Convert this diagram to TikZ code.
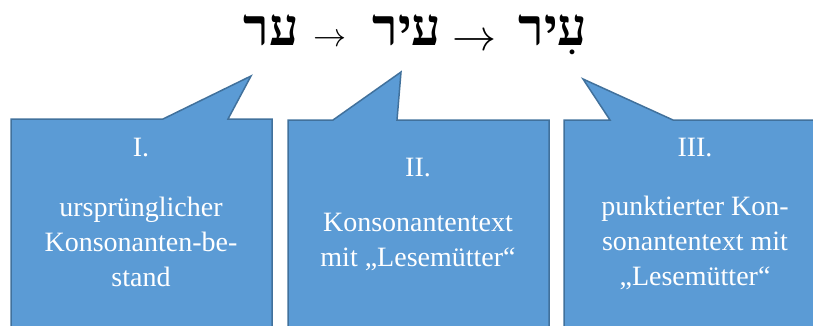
\documentclass[tikz,border=0pt]{standalone}
\usepackage{fontspec}
\setmainfont{Liberation Serif}
\newfontfamily\hebfont[Script=Hebrew]{Liberation Serif}
\TeXXeTstate=1
\definecolor{calloutfill}{HTML}{5B9BD5}
\definecolor{calloutline}{HTML}{41719C}
\begin{document}
\begin{tikzpicture}[x=1pt,y=-1pt,
  callout/.style={fill=calloutfill,draw=calloutline,line width=1.5pt,line join=miter},
  heb/.style={font=\hebfont\bfseries\fontsize{52}{52}\selectfont,inner sep=0pt,anchor=base},
  arr/.style={inner sep=0pt,anchor=center,font=\Huge,transform shape},
  num/.style={text=white,font=\fontsize{28}{35}\selectfont,inner sep=0pt,anchor=center},
  body/.style={text=white,font=\fontsize{28}{35}\selectfont,align=center,inner sep=0pt,anchor=center}]
\useasboundingbox (0,0) rectangle (813,325);
\clip (0,0) rectangle (813,325);
% three speech-bubble boxes, running off the bottom (and right) edge
\draw[callout] (11,119) -- (163,119) -- (251,76) -- (228,119) -- (272,119)
  -- (272,345) -- (11,345) -- cycle;
\draw[callout] (288,120) -- (333,120) -- (401,72) -- (397,120) -- (549,120)
  -- (549,345) -- (288,345) -- cycle;
\draw[callout] (564,120) -- (610,120) -- (583,79) -- (673,120) -- (840,120)
  -- (840,345) -- (564,345) -- cycle;
% Hebrew word forms with the arrows between them
\node[heb] (w1) at (271,45) {\beginR ער\endR};
\node[arr,scale=1.33] (a1) at (330,40) {$\rightarrow$};
\node[heb] (w2) at (407,45) {\beginR עיר\endR};
\node[arr,scale=1.77] (a2) at (475,42) {$\rightarrow$};
\node[heb] (w3) at (553,45) {\beginR עִיר\endR};
% box texts
\node[num] (n1) at (141,148) {I.};
\node[body] (b1) at (141,242) {ursprünglicher\\Konsonanten-be-\\stand};
\node[num] (n2) at (418,168) {II.};
\node[body] (b2) at (418,242) {Konsonantentext\\mit „Lesemütter“};
\node[num] (n3) at (695,148) {III.};
\node[body] (b3) at (695,243) {punktierter Kon-\\sonantentext mit\\„Lesemütter“};
\end{tikzpicture}
\end{document}
